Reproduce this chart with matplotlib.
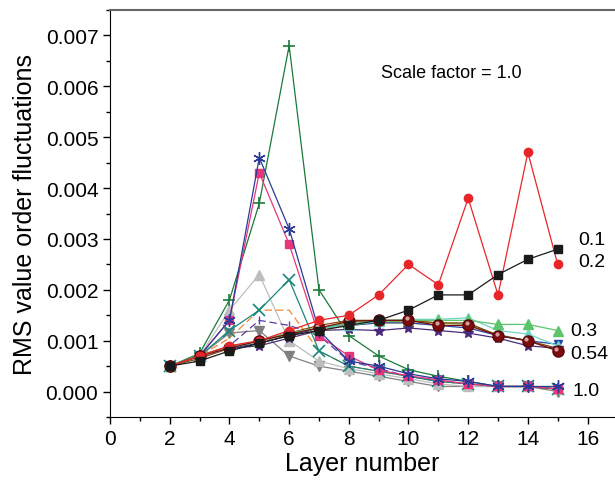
import matplotlib.pyplot as plt
import numpy as np
from matplotlib.ticker import MultipleLocator, FormatStrFormatter

plt.rcParams['font.family'] = ['Liberation Sans', 'DejaVu Sans']

layers = np.arange(2, 16)

# values in units of 1e-3
s_gray_down = [0.5, 0.7, 1.15, 1.2, 0.7, 0.5, 0.4, 0.3, 0.2, 0.1, 0.1, 0.1, 0.1, 0.0]
s_light_gray = [0.5, 0.7, 1.6, 2.3, 1.0, 0.6, 0.45, 0.35, 0.25, 0.15, 0.1, 0.1, 0.1, 0.05]
s_orange = [0.5, 0.7, 1.05, 1.6, 1.6, 0.8, 0.5, 0.4, 0.3, 0.2, 0.15, 0.1, 0.1, 0.05]
s_slate = [0.5, 0.7, 0.9, 1.4, 1.3, 1.1, 0.6, 0.45, 0.3, 0.2, 0.15, 0.1, 0.1, 0.05]
s_teal = [0.5, 0.7, 1.2, 1.6, 2.2, 0.8, 0.5, 0.4, 0.3, 0.2, 0.15, 0.1, 0.1, 0.05]
s_green_plus = [0.5, 0.75, 1.8, 3.7, 6.8, 2.0, 1.1, 0.7, 0.43, 0.3, 0.2, 0.1, 0.1, 0.05]
s_pink = [0.5, 0.7, 1.4, 4.3, 2.9, 1.1, 0.7, 0.42, 0.31, 0.23, 0.15, 0.1, 0.1, 0.05]
s_navy = [0.5, 0.7, 1.4, 4.6, 3.2, 1.2, 0.6, 0.5, 0.35, 0.25, 0.2, 0.1, 0.1, 0.1]
s_yellow = [0.5, 0.7, 0.85, 0.95, 1.1, 1.2, 1.3, 1.35, 1.35, 1.3, 1.3, 1.1, 1.0, 0.8]
s_olive = [0.5, 0.72, 0.88, 1.0, 1.12, 1.25, 1.33, 1.38, 1.38, 1.35, 1.32, 1.12, 1.0, 0.82]
s_brown = [0.5, 0.65, 0.85, 1.0, 1.15, 1.3, 1.4, 1.4, 1.4, 1.35, 1.35, 1.1, 1.0, 0.85]
s_purple = [0.5, 0.7, 0.85, 0.9, 1.05, 1.2, 1.22, 1.2, 1.25, 1.2, 1.15, 1.05, 0.9, 0.85]
s_blue_down = [0.5, 0.7, 0.85, 0.95, 1.1, 1.25, 1.3, 1.35, 1.35, 1.3, 1.25, 1.1, 1.0, 0.93]
s_cyan = [0.5, 0.7, 0.85, 1.0, 1.15, 1.25, 1.3, 1.38, 1.42, 1.42, 1.45, 1.2, 1.13, 0.9]
s_03 = [0.5, 0.7, 0.85, 1.0, 1.15, 1.25, 1.35, 1.4, 1.4, 1.4, 1.4, 1.32, 1.32, 1.2]
s_054 = [0.5, 0.7, 0.85, 1.0, 1.13, 1.25, 1.38, 1.4, 1.4, 1.3, 1.3, 1.1, 1.0, 0.8]
s_02 = [0.5, 0.7, 0.9, 1.0, 1.2, 1.4, 1.5, 1.9, 2.5, 2.1, 3.8, 1.9, 4.7, 2.5]
s_01 = [0.5, 0.6, 0.8, 0.95, 1.1, 1.2, 1.3, 1.4, 1.6, 1.9, 1.9, 2.3, 2.6, 2.8]

right_labels = ['0.1', '0.2', '0.3', '0.54', '1.0']
label_y = [2.99, 2.56, 1.21, 0.74, 0.03]
label_x = [15.68, 15.68, 15.41, 15.41, 15.5]

fig = plt.figure(figsize=(6.15, 4.81), dpi=100)
ax = fig.add_axes([0.179, 0.131, 0.821, 0.846])

def draw(vals, color, marker, ms=6, ls='-', mfc=None, mec=None, mew=1.0):
    ax.plot(layers, np.array(vals) * 1e-3, ls=ls, color=color, lw=0.9,
            marker=marker, ms=ms, mfc=mfc or color, mec=mec or color, mew=mew)

draw(s_gray_down, '#808080', 'v', ms=7)
draw(s_light_gray, '#bdbdbd', '^', ms=7)
draw(s_orange, '#f08a30', None, ls=(0, (6, 3)))
draw(s_slate, '#5a3fa0', '|', ls=(0, (6, 3)), ms=6)
draw(s_teal, '#17877f', 'x', ms=8, mew=1.2)
draw(s_green_plus, '#1a7a3a', '+', ms=9, mew=1.2)
draw(s_pink, '#e8357a', 's', ms=6)
draw(s_navy, '#2b3a99', (6, 2, 0), ms=9, mew=1.0)
draw(s_yellow, '#e6d03a', None)
draw(s_olive, '#6aa84f', None)
draw(s_brown, '#8b4513', None, mew=1.2)
draw(s_purple, '#4b2a7b', '*', ms=8)
draw(s_blue_down, '#2244aa', 'v', ms=6)
draw(s_cyan, '#6fd4c8', '^', ms=7)
draw(s_03, '#5cc46a', '^', ms=7)
draw(s_054, '#7a0c10', 'o', ms=8, mec='#5a0508')
# small highlight on the sphere markers
ax.plot(layers - 0.05, np.array(s_054) * 1e-3 + 0.00004, ls='none', marker='o',
        ms=2, color='#d9a0a0')
draw(s_02, '#e8262a', 'o', ms=6)
draw(s_01, '#1a1a1a', 's', ms=6)

for t, lx, ly in zip(right_labels, label_x, label_y):
    ax.text(lx, ly * 1e-3, t, fontsize=14, va='center', ha='left')

ax.text(9.08, 6.28e-3, 'Scale factor = 1.0', fontsize=13, va='center', ha='left')

ax.set_xlim(0, 16.92)
ax.set_ylim(-0.0005, 0.0075)
ax.xaxis.set_major_locator(MultipleLocator(2))
ax.xaxis.set_minor_locator(MultipleLocator(1))
ax.yaxis.set_major_locator(MultipleLocator(0.001))
ax.yaxis.set_minor_locator(MultipleLocator(0.0005))
ax.yaxis.set_major_formatter(FormatStrFormatter('%.3f'))
ax.tick_params(which='major', direction='out', length=5, width=1, labelsize=15)
ax.tick_params(which='minor', direction='out', length=3, width=1)
ax.spines['right'].set_visible(False)
ax.spines['top'].set_color('#666666')
ax.spines['top'].set_linewidth(1.5)
ax.set_xlabel('Layer number', fontsize=18, labelpad=2)
ax.set_ylabel('RMS value order fluctuations', fontsize=18, labelpad=6)

fig.savefig('out.png', dpi=100)
